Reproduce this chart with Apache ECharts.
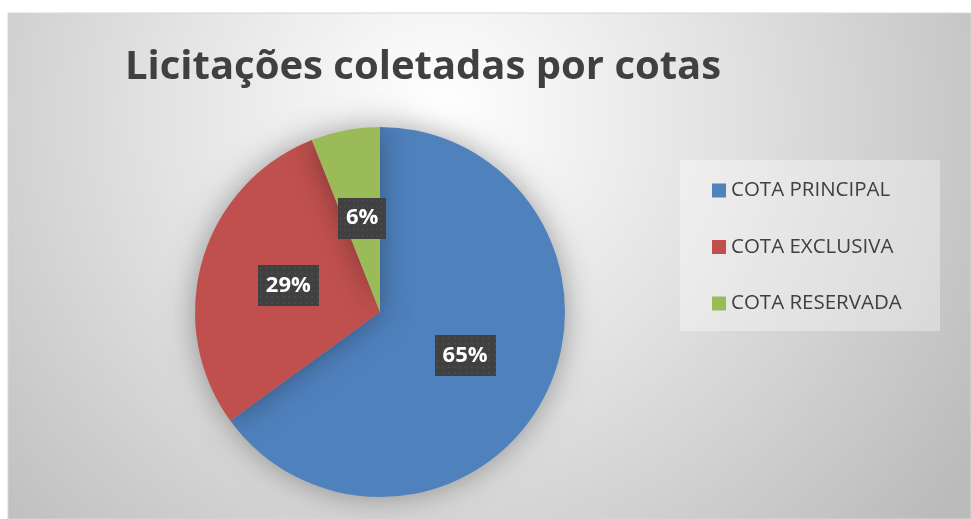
<!DOCTYPE html>
<html>
<head>
<meta charset="utf-8">
<script src="https://cdn.jsdelivr.net/npm/echarts@6/dist/echarts.min.js"></script>
<style>
html,body{margin:0;padding:0;background:#ffffff;}
#chart{width:971px;height:519px;}
</style>
</head>
<body>
<div id="chart"></div>
<script>
const titleText = 'Licitações coletadas por cotas';
const categories = ['COTA PRINCIPAL', 'COTA EXCLUSIVA', 'COTA RESERVADA'];
const values = [65, 29, 6];
const colors = ['#4f81bd', '#c0504d', '#9bbb59'];

function dotPattern(w, h) {
  const c = document.createElement('canvas');
  c.width = w; c.height = h;
  const ctx = c.getContext('2d');
  ctx.fillStyle = '#404040';
  ctx.fillRect(0, 0, w, h);
  ctx.fillStyle = '#4c4c4c';
  for (let y = 2; y < h; y += 6) {
    for (let x = 2; x < w; x += 6) {
      ctx.fillRect(x, y, 2, 2);
    }
  }
  return c;
}
const pat = dotPattern(64, 42);

const chart = echarts.init(document.getElementById('chart'), null, {renderer: 'canvas'});
chart.setOption({
  animation: false,
  backgroundColor: '#ffffff',
  graphic: [
    {
      type: 'rect', z: -10, silent: true,
      shape: {x: 8, y: 13, width: 963, height: 506},
      style: {
        fill: new echarts.graphic.RadialGradient(0.45, 0.2, 1.25, [
          {offset: 0, color: '#ffffff'},
          {offset: 0.45, color: '#e2e2e2'},
          {offset: 1, color: '#bbbbbb'}
        ]),
        stroke: '#d6d6d6', lineWidth: 1
      }
    },
    {
      type: 'rect', z: -5, silent: true,
      shape: {x: 680, y: 160, width: 260, height: 171},
      style: {fill: 'rgba(255,255,255,0.35)'}
    }
  ],
  title: {
    text: titleText,
    left: 125,
    top: 48,
    padding: 0,
    textStyle: {
      fontFamily: 'Open Sans',
      fontWeight: 'bold',
      fontSize: 40,
      color: '#404040'
    }
  },
  legend: {
    orient: 'vertical',
    left: 707,
    top: 175,
    itemWidth: 14,
    itemHeight: 14,
    itemGap: 35.5,
    icon: 'rect',
    data: categories,
    textStyle: {
      fontFamily: 'Open Sans',
      fontSize: 20.5,
      color: '#404040'
    }
  },
  series: [{
    type: 'pie',
    center: [380, 312],
    radius: 185,
    startAngle: 90,
    clockwise: true,
    color: colors,
    data: categories.map((n, i) => ({name: n, value: values[i]})),
    itemStyle: {
      shadowBlur: 30,
      shadowColor: 'rgba(0,0,0,0.35)'
    },
    label: {
      show: true,
      position: 'inside',
      formatter: '{d}%',
      fontFamily: 'Open Sans',
      fontWeight: 'bold',
      fontSize: 22,
      lineHeight: 23,
      color: '#ffffff',
      backgroundColor: {image: pat},
      padding: [9, 8, 9, 8],
      shadowBlur: 6,
      shadowOffsetX: 3,
      shadowOffsetY: 3,
      shadowColor: 'rgba(0,0,0,0.45)'
    },
    labelLine: {show: false},
    emphasis: {disabled: true}
  }]
});
</script>
</body>
</html>
